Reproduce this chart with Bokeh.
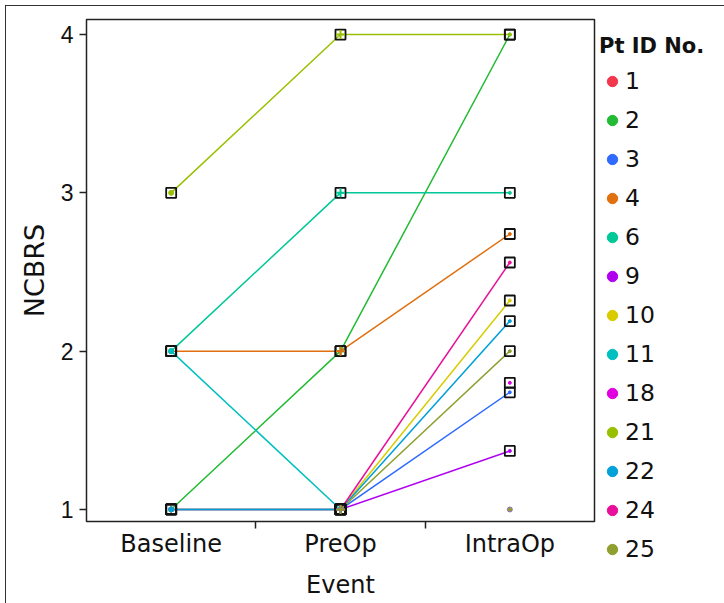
import numpy as np
from bokeh.plotting import figure
from bokeh.models import FixedTicker, Legend, LegendItem
from bokeh.embed import file_html
from bokeh.resources import INLINE

nan = np.nan
events = ["Baseline", "PreOp", "IntraOp"]
patients = ["1", "2", "3", "4", "6", "9", "10", "11", "18", "21", "22", "24", "25"]
colors = ["#F2364C", "#22BB33", "#2F6BFF", "#E07010", "#00C897", "#B000F0",
          "#D8CC00", "#00BFBF", "#E000E0", "#99C000", "#00A0D8", "#E8109A", "#8FA030"]
baseline = [nan, 1, 1, 2, 2, 1, 1, 2, nan, 3, 1, nan, nan]
preop    = [nan, 2, 1, 2, 3, 1, 1, 1, nan, 4, 1, 1, 1]
intraop  = [nan, 4, 1.74, 2.74, 3, 1.37, 2.32, nan, 1.8, 4, 2.19, 2.56, 2.0]
# lone point at IntraOp without square
lone_event = [2]
lone_value = [1]

FONT = "Liberation Sans"
WIDE = "DejaVu Sans"

p = figure(frame_width=508, frame_height=502, output_backend="svg", toolbar_location=None,
           x_range=(-0.5, 2.5), y_range=(0.924, 4.095),
           min_border_left=80, min_border_right=131, min_border_top=13, min_border_bottom=83,
           margin=(5, 0, 0, 5))
p.grid.visible = False
p.outline_line_color = "#222222"
p.outline_line_width = 1.5

# x axis
p.xaxis.ticker = FixedTicker(ticks=[0, 1, 2], minor_ticks=[0.5, 1.5])
p.xaxis.major_label_overrides = {0: events[0], 1: events[1], 2: events[2]}
p.xaxis.major_tick_line_color = None
p.xaxis.major_tick_out = 0
p.xaxis.major_tick_in = 0
p.xaxis.minor_tick_out = 7
p.xaxis.minor_tick_in = 0
p.xaxis.minor_tick_line_color = "#222222"
p.xaxis.minor_tick_line_width = 1.5
p.xaxis.axis_line_color = None
p.xaxis.axis_label = "Event"
p.xaxis.major_label_text_font = WIDE
p.xaxis.major_label_text_font_size = "24px"
p.xaxis.major_label_text_color = "#111111"
p.xaxis.axis_label_text_font = WIDE
p.xaxis.axis_label_text_font_size = "24px"
p.xaxis.axis_label_text_font_style = "normal"
p.xaxis.axis_label_text_color = "#111111"
p.xaxis.major_label_standoff = 1
p.xaxis.axis_label_standoff = 10

# y axis
p.yaxis.ticker = FixedTicker(ticks=[1, 2, 3, 4], minor_ticks=[])
p.yaxis.major_tick_out = 7
p.yaxis.major_tick_in = 0
p.yaxis.major_tick_line_color = "#222222"
p.yaxis.major_tick_line_width = 1.5
p.yaxis.axis_line_color = None
p.yaxis.axis_label = "NCBRS"
p.yaxis.major_label_text_font = FONT
p.yaxis.major_label_text_font_size = "23px"
p.yaxis.major_label_text_color = "#111111"
p.yaxis.axis_label_text_font = WIDE
p.yaxis.axis_label_text_font_size = "27px"
p.yaxis.axis_label_text_font_style = "normal"
p.yaxis.axis_label_text_color = "#111111"
p.yaxis.major_label_standoff = 6
p.yaxis.axis_label_standoff = 8

x = [0, 1, 2]
items = []
for pid, col, b, pr, io in zip(patients, colors, baseline, preop, intraop):
    ys = [b, pr, io]
    p.line(x, ys, line_color=col, line_width=1.5)
for pid, col, b, pr, io in zip(patients, colors, baseline, preop, intraop):
    ys = [b, pr, io]
    xs_ok = [xx for xx, yy in zip(x, ys) if not np.isnan(yy)]
    ys_ok = [yy for yy in ys if not np.isnan(yy)]
    p.scatter(xs_ok, ys_ok, marker="square", size=10, fill_color=None,
              line_color="#111111", line_width=1.8)
    if not np.isnan(b):
        p.scatter([0], [b], marker="circle", size=5, fill_color=col, line_color=col)
    if not np.isnan(pr):
        p.scatter([1], [pr], marker="cross", size=9, line_color=col, line_width=2)
    if not np.isnan(io):
        p.scatter([2], [io], marker="circle", size=3, fill_color=col, line_color=col)
    dummy = p.scatter(x=[nan], y=[nan], marker="circle", size=13, fill_color=col, line_color=col)
    items.append(LegendItem(label=pid, renderers=[dummy]))

p.scatter(lone_event, lone_value, marker="circle", size=5, fill_color="#8FA030",
          line_color="#9A70C0", line_width=1)

legend = Legend(items=items, location=(5, -47), orientation="vertical")
legend.title = "Pt ID No."
legend.title_text_font = WIDE
legend.title_text_font_style = "bold"
legend.title_text_font_size = "21px"
legend.title_text_color = "#111111"
legend.title_standoff = 3
legend.label_text_font = WIDE
legend.label_text_font_size = "23.5px"
legend.label_text_color = "#111111"
legend.glyph_width = 26
legend.glyph_height = 26
legend.label_height = 39
legend.spacing = 0
legend.label_standoff = 0
legend.padding = 0
legend.margin = 0
legend.border_line_color = None
legend.background_fill_alpha = 0
p.add_layout(legend, "right")

p.styles = {"border-left": "1.5px solid #333", "border-top": "1.5px solid #333"}

open("out.html", "w").write(file_html(p, INLINE))
